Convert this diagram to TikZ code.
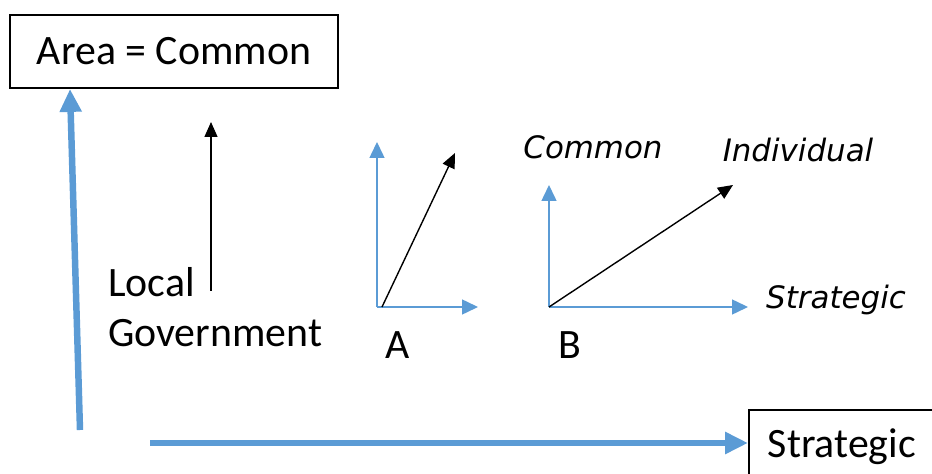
\documentclass[tikz,border=0pt]{standalone}
\usepackage{fontspec}
\setmainfont{Carlito}
\newfontfamily\axisfont{DejaVu Sans}
\usetikzlibrary{positioning, arrows.meta}
\definecolor{axisblue}{HTML}{5B9BD5}

\begin{document}
\begin{tikzpicture}[
        x=1bp, y=-1bp,
        every node/.style={font=\fontsize{42}{50}\selectfont},
        labelbox/.style={draw, line width=1.8pt, inner sep=0pt},
        bigaxis/.style={axisblue, line width=6.5pt,
                        -{Triangle[width=21pt, length=23pt]}},
        smallaxis/.style={axisblue, line width=1.5pt,
                          -{Triangle[width=15pt, length=16pt]}},
        vec/.style={black, line width=1.4pt,
                    -{Triangle[width=13pt, length=15pt]}},
        axislabel/.style={font=\axisfont\itshape\fontsize{31}{36}\selectfont},
      ]
      \useasboundingbox (0,0) rectangle (932,474);
      \clip (0,0) rectangle (932,474);
      % outer frame
      \node[labelbox, minimum width=328bp, minimum height=73bp] (areabox) at (174, 51.5)
        {Area = Common};
      \node[labelbox, anchor=north west, inner xsep=19bp, inner ysep=19bp,
            text width=300bp, align=left, text depth=40bp] (stratbox)
        at (748, 409) {Strategic};
      \coordinate (vbase) at (80, 430);
      \coordinate (vtip) at (70, 89);
      \coordinate (hbase) at (150, 443);
      \draw[bigaxis] (vbase) -- (vtip);
      \draw[bigaxis] (hbase) -- (stratbox.west |- hbase);

      % local government
      \node[anchor=north west, align=left, inner sep=0pt] (localgov) at (108, 267)
        {Local\\Government};
      \coordinate (lgbase) at (211, 291);
      \coordinate (lgtip) at (211, 122);
      \draw[vec] (lgbase) -- (lgtip);

      % diagram A
      \coordinate (aorig) at (377, 307);
      \coordinate (aup) at (377, 142);
      \coordinate (aright) at (478, 307);
      \coordinate (avec) at (455, 153);
      \draw[smallaxis] (aorig) -- (aup);
      \draw[smallaxis] (aorig) -- (aright);
      \draw[vec] ([xshift=5bp]aorig) -- (avec);
      \node (alabel) at (398, 345) {A};

      % diagram B
      \coordinate (borig) at (549, 307);
      \coordinate (bup) at (549, 185);
      \coordinate (bright) at (748, 307);
      \coordinate (bvec) at (733, 185);
      \draw[smallaxis] (borig) -- (bup);
      \draw[smallaxis] (borig) -- (bright);
      \draw[vec] (borig) -- (bvec);
      \node (blabel) at (570, 345) {B};
      \node[axislabel] (common) at (593, 147) {Common};
      \node[axislabel] (indiv) at (798, 150) {Individual};
      \node[axislabel] (strat) at (836, 300) {Strategic};
    \end{tikzpicture}
\end{document}
